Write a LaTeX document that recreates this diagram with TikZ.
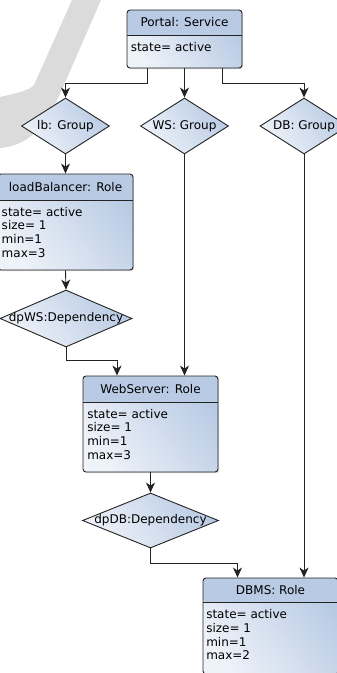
\documentclass[tikz,border=0pt]{standalone}
\usepackage{fontspec}
\setmainfont{DejaVu Sans}
\usetikzlibrary{arrows.meta,shapes.geometric,shadows}
\definecolor{headc}{RGB}{185,203,228}
\definecolor{bodyl}{RGB}{238,242,249}
\definecolor{bodyr}{RGB}{185,203,228}
\definecolor{linec}{RGB}{35,35,35}
\definecolor{wmark}{RGB}{219,219,219}
\tikzset{
  every node/.append style={font=\fontsize{12}{13.7}\selectfont, text=black},
  gfill/.style={left color=bodyl, right color=bodyr, shading angle=125},
  classbox/.style={draw=linec, line width=0.9pt, rounded corners=3pt,
    gfill, inner sep=0pt,
    minimum width=135pt, minimum height=96pt,
    drop shadow={shadow xshift=1.2pt,shadow yshift=-1.2pt,opacity=0.3}},
  hdr/.style={path picture={
    \fill[headc] (path picture bounding box.north west) rectangle ([yshift=-#1]path picture bounding box.north east);
    \draw[linec, line width=0.9pt] ([yshift=-#1]path picture bounding box.north west) -- ([yshift=-#1]path picture bounding box.north east);}},
  gdiamond/.style={shape=diamond, draw=linec, line width=0.9pt,
    gfill, inner sep=0pt,
    minimum width=88pt, minimum height=56pt},
  attr/.style={anchor=north west, inner sep=0pt, align=left},
  conn/.style={draw=linec, line width=0.9pt, -{Stealth[length=10pt,width=9pt,inset=3pt]}}
}
\begin{document}
\begin{tikzpicture}[x=1pt,y=-1pt]
\useasboundingbox (0,0) rectangle (337,673);
\clip (0,0) rectangle (337,673);
% watermark
\fill[wmark] (72,0) -- (101,0) -- (64,85) .. controls (50,118) and (35,145) .. (0,148)
  -- (0,97) .. controls (18,93) and (30,90) .. (34,85) -- cycle;

% class boxes
\node[classbox, minimum width=115pt, minimum height=58pt, hdr=25pt] (portal) at (184.5,39) {};
\node (portalH) at ([yshift=-12.5pt]portal.north) {Portal: Service};
\node[attr] (portalA) at ([xshift=4pt,yshift=-31.9pt]portal.north west) {\strut state= active};

\node[classbox, hdr=26pt] (lb) at (65.5,222) {};
\node (lbH) at ([yshift=-13pt]lb.north) {loadBalancer: Role};
\node[attr] (lbA) at ([xshift=4pt,yshift=-32.9pt]lb.north west) {\strut state= active\\size= 1\\min=1\\max=3};

\node[classbox, hdr=26pt] (ws) at (150.5,424) {};
\node (wsH) at ([yshift=-13pt]ws.north) {WebServer: Role};
\node[attr] (wsA) at ([xshift=4.5pt,yshift=-32.9pt]ws.north west) {\strut state= active\\size= 1\\min=1\\max=3};

\node[classbox, hdr=24pt] (dbms) at (270.5,626) {};
\node (dbmsH) at ([yshift=-12pt]dbms.north) {DBMS: Role};
\node[attr] (dbmsA) at ([xshift=3.5pt,yshift=-31.5pt]dbms.north west) {\strut state= active\\size= 1\\min=1\\max=2};

% diamonds
\node[gdiamond] (lbG) at (65.5,126) {};
\node (lbGt) at (lbG) {lb: Group};
\node[gdiamond] (WSG) at (184.5,126) {};
\node (WSGt) at (WSG) {WS: Group};
\node[gdiamond] (DBG) at (304,126) {};
\node (DBGt) at (DBG) {DB: Group};
\node[gdiamond, minimum width=132pt, minimum height=57pt] (dpWS) at (66,318.5) {};
\node (dpWSt) at (dpWS) {dpWS:Dependency};
\node[gdiamond, minimum width=136pt, minimum height=55pt] (dpDB) at (150.5,520.5) {};
\node (dpDBt) at (dpDB) {dpDB:Dependency};

% connectors
\draw[conn] ([xshift=-37.5pt]portal.south) -- ++(0,15) -| (lbG.north);
\draw[conn] (portal.south) -- (WSG.north);
\draw[conn] ([xshift=37.5pt]portal.south) -- ++(0,15) -| (DBG.north);
\draw[conn] (lbG.south) -- (lb.north);
\draw[conn] (lb.south) -- (dpWS.north);
\draw[conn] (dpWS.south) -- ++(0,13) -| ([xshift=-33.5pt]ws.north);
\draw[conn] (WSG.south) -- (WSG.south |- ws.north);
\draw[conn] (ws.south) -- (dpDB.north);
\draw[conn] (dpDB.south) -- ++(0,15) -| ([xshift=-33pt]dbms.north);
\draw[conn] (DBG.south) -- (DBG.south |- dbms.north);
\end{tikzpicture}
\end{document}
